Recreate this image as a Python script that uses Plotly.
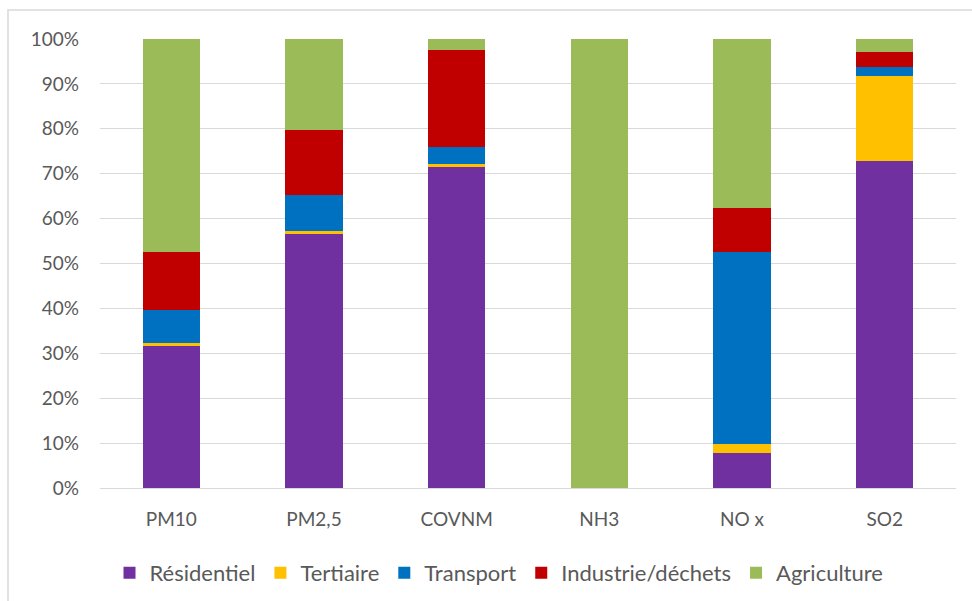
import plotly.graph_objects as go

categories = ["PM10", "PM2,5", "COVNM", "NH3", "NO x", "SO2"]
residentiel = [31.7, 56.6, 71.5, 0.0, 7.7, 72.8]
tertiaire = [0.5, 0.6, 0.7, 0.0, 2.2, 19.0]
transport = [7.4, 8.0, 3.7, 0.0, 42.7, 2.0]
industrie = [13.0, 14.6, 21.7, 0.0, 9.8, 3.2]
agriculture = [47.4, 20.2, 2.4, 100.0, 37.6, 3.0]
tick_vals = [0, 10, 20, 30, 40, 50, 60, 70, 80, 90, 100]
tick_text = [f"{v}%" for v in tick_vals]

series = [
    ("Résidentiel", residentiel, "#7030A0"),
    ("Tertiaire", tertiaire, "#FFC000"),
    ("Transport", transport, "#0070C0"),
    ("Industrie/déchets", industrie, "#C00000"),
    ("Agriculture", agriculture, "#9BBB59"),
]

fig = go.Figure()
for name, vals, col in series:
    fig.add_trace(go.Bar(x=categories, y=vals, name=name,
                         marker=dict(color=col, line=dict(width=0))))

W, H = 972, 601
ml, mr, mt, mb = 100, 16, 39, 113
pw, ph = W - ml - mr, H - mt - mb

def px_x(px):
    return (px - ml) / pw

def px_y(py):
    return 1 + (mt - py) / ph

fig.update_layout(
    width=W, height=H,
    barmode="stack", bargap=0.6,
    margin=dict(l=ml, r=mr, t=mt, b=mb, autoexpand=False),
    plot_bgcolor="white", paper_bgcolor="white",
    font=dict(family="Lato, Carlito, sans-serif", size=19, color="#595959"),
    showlegend=True,
    legend=dict(orientation="h", x=px_x(499), xanchor="center",
                y=px_y(573), yanchor="middle",
                font=dict(size=22, color="#595959"), traceorder="normal",
                itemwidth=30),
    xaxis=dict(showgrid=False, showline=True, linecolor="#d9d9d9", linewidth=1,
               ticks="", ticklabelstandoff=14, automargin=False,
               tickfont=dict(size=19, color="#595959")),
    yaxis=dict(range=[0, 100], tickvals=tick_vals, ticktext=tick_text,
               showgrid=True, gridcolor="#d9d9d9", gridwidth=1, zeroline=False,
               showline=False, ticks="", ticklen=0, ticklabelstandoff=20,
               automargin=False,
               tickfont=dict(size=19, color="#595959")),
    shapes=[dict(type="rect", xref="paper", yref="paper",
                 x0=px_x(8), x1=px_x(W + 20),
                 y0=px_y(H + 20), y1=px_y(10),
                 line=dict(color="#d9d9d9", width=1.5), fillcolor="rgba(0,0,0,0)",
                 layer="below")],
)

fig.write_html("out.html", config={"displayModeBar": False},
               post_script="document.body.style.margin='0';document.body.style.overflow='hidden';")
